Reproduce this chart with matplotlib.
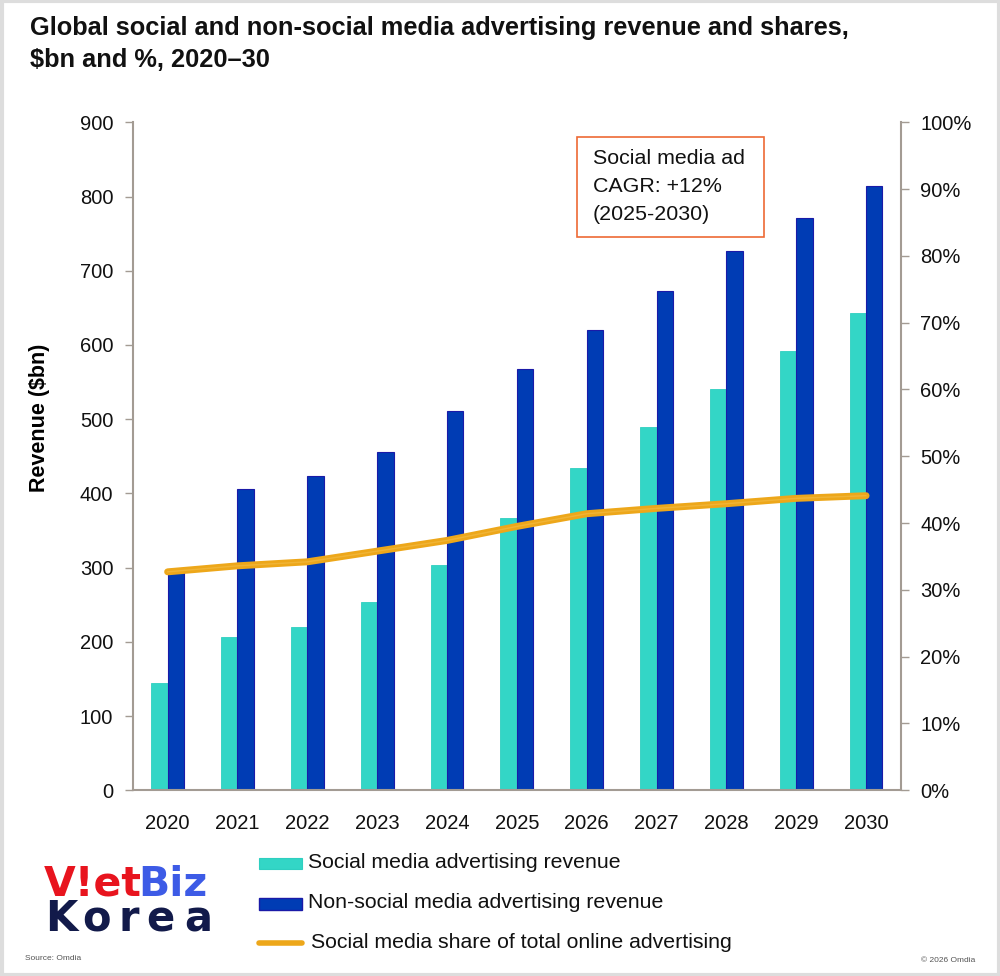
import matplotlib
matplotlib.use("Agg")
import matplotlib.pyplot as plt
import numpy as np
from matplotlib.patches import Rectangle
from matplotlib.lines import Line2D

years = ["2020", "2021", "2022", "2023", "2024", "2025", "2026", "2027", "2028", "2029", "2030"]
social_rev = [144, 206, 220, 253, 303, 367, 434, 489, 540, 592, 643]
nonsocial_rev = [298, 406, 423, 456, 511, 567, 620, 673, 727, 771, 814]
social_share = [32.7, 33.6, 34.2, 35.8, 37.4, 39.5, 41.4, 42.2, 42.9, 43.7, 44.1]

left_ticks = list(range(0, 1000, 100))
right_ticks = list(range(0, 110, 10))

TEAL = "#33D6C6"
BLUE = "#003CB4"
ORANGE = "#EDA71A"
SPINE = "#A39B93"

plt.rcParams['font.family'] = ['Liberation Sans', 'DejaVu Sans']

fig = plt.figure(figsize=(10, 9.76), dpi=100)
ax = fig.add_axes([0.1327, 0.1903, 0.7683, 0.6844])

x = np.arange(len(years))
w = 0.235
ax.bar(x - w / 2, social_rev, width=w, color=TEAL, edgecolor="#2ECFC0", linewidth=0.6, zorder=2)
ax.bar(x + w / 2, nonsocial_rev, width=w, color=BLUE, edgecolor="#1A1AA8", linewidth=0.8, zorder=2)

ax.set_xlim(-0.5, len(years) - 0.5)
ax.set_ylim(0, 900)
ax.set_yticks(left_ticks)
ax.set_xticks(x)
ax.set_xticklabels(years)
ax.tick_params(axis='x', length=0, labelsize=14.5, pad=17, colors="#111111")
ax.tick_params(axis='y', length=6, width=1, color=SPINE, labelsize=14.5, pad=8, labelcolor="#111111")
for s in ["top", "right"]:
    ax.spines[s].set_visible(False)
for s in ["left", "bottom"]:
    ax.spines[s].set_color(SPINE)
    ax.spines[s].set_linewidth(1.5)
ax.set_ylabel("Revenue ($bn)", fontsize=15.5, fontweight="bold")
ax.yaxis.set_label_coords(-0.108, 0.557)

ax2 = ax.twinx()
ax2.set_ylim(0, 100)
ax2.set_yticks(right_ticks)
ax2.set_yticklabels([f"{t}%" for t in right_ticks])
ax2.tick_params(axis='y', length=6, width=1, color=SPINE, labelsize=14.5, pad=8, labelcolor="#111111")
for s in ["top", "left", "bottom"]:
    ax2.spines[s].set_visible(False)
ax2.spines["right"].set_color(SPINE)
ax2.spines["right"].set_linewidth(1.5)
ax2.plot(x, social_share, color=ORANGE, linewidth=5, solid_capstyle="round", zorder=3)
ax2.plot(x, social_share, color="#F3BE4A", linewidth=1.0, solid_capstyle="round", zorder=4, alpha=0.6)

# annotation box
ann_lines = ["Social media ad", "CAGR: +12%", "(2025-2030)"]
for ln, ly in zip(ann_lines, [159, 187, 215]):
    fig.text(0.593, 1 - ly / 976, ln, fontsize=15.4, ha="left", va="center", color="#111111")
fig.patches.append(Rectangle((0.577, 1 - 237 / 976), 0.187, 100 / 976, transform=fig.transFigure,
                             facecolor="none", edgecolor="#EE6A35", linewidth=1.2))

# title
fig.text(0.030, 1 - 35 / 976, "Global social and non-social media advertising revenue and shares,",
         fontsize=18.3, fontweight="bold", ha="left", va="baseline", color="#111111")
fig.text(0.030, 1 - 67 / 976, "$bn and %, 2020\u201330",
         fontsize=18.3, fontweight="bold", ha="left", va="baseline", color="#111111")

# legend (manual)
rows_y = [862, 903, 943]
fig.patches.append(Rectangle((0.259, 1 - 869 / 976), 0.043, 11 / 976, transform=fig.transFigure,
                             facecolor=TEAL, edgecolor="#2ECFC0", linewidth=0.8))
fig.patches.append(Rectangle((0.259, 1 - 910 / 976), 0.043, 12 / 976, transform=fig.transFigure,
                             facecolor=BLUE, edgecolor="#1A1AA8", linewidth=1.0))
fig.lines.append(Line2D([0.259, 0.302], [1 - 943 / 976, 1 - 943 / 976], transform=fig.transFigure,
                        color=ORANGE, linewidth=4, solid_capstyle="round"))
leg_labels = ["Social media advertising revenue", "Non-social media advertising revenue",
              "Social media share of total online advertising"]
leg_x = [0.308, 0.308, 0.311]
for lx, ly, lab in zip(leg_x, rows_y, leg_labels):
    fig.text(lx, 1 - ly / 976, lab, fontsize=15.3, ha="left", va="center", color="#111111")

# logo
t1 = fig.text(0.044, 1 - 896 / 976, "V!et", fontsize=29.5, fontweight="bold", color="#E8141E",
              ha="left", va="baseline", family=["DejaVu Sans"])
fig.canvas.draw()
bb = t1.get_window_extent(renderer=fig.canvas.get_renderer())
fig.text(bb.x1 / fig.bbox.width - 0.004, 1 - 896 / 976, "Biz", fontsize=29.5, fontweight="bold",
         color="#3D5BE6", ha="left", va="baseline", family=["DejaVu Sans"])
for ch, cx in zip("Korea", [0.061, 0.0965, 0.129, 0.160, 0.198]):
    fig.text(cx, 1 - 931 / 976, ch, fontsize=30, fontweight="bold", color="#121A4A", ha="center",
             va="baseline", family=["DejaVu Sans"])

fig.text(0.025, 1 - 959 / 976, "Source: Omdia", fontsize=6, color="#555555", ha="left", va="center")
fig.text(0.975, 1 - 961 / 976, "\u00a9 2026 Omdia", fontsize=6, color="#555555", ha="right", va="center")

# outer frame
fig.patches.append(Rectangle((0.0015, 0.0015), 0.997, 0.997, transform=fig.transFigure,
                             facecolor="none", edgecolor="#DDDDDD", linewidth=3))

fig.savefig("out.png", dpi=100)
